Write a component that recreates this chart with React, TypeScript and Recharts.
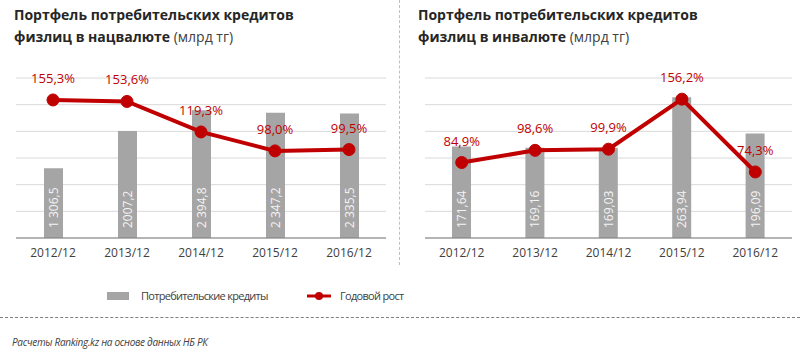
import React from 'react';
import { ComposedChart, Bar, Line, XAxis, YAxis, CartesianGrid, LabelList } from 'recharts';

// ---------------------------------------------------------------------------
// Data
// ---------------------------------------------------------------------------

const categories = ['2012/12', '2013/12', '2014/12', '2015/12', '2016/12'];

// Portfolio in national currency, bln tenge
const localLoans = [1306.5, 2007.2, 2394.8, 2347.2, 2335.5];
const localLoanLabels = ['1 306,5', '2007,2', '2 394,8', '2 347,2', '2 335,5'];
const localGrowth = [155.3, 153.6, 119.3, 98.0, 99.5];

// Portfolio in foreign currency, bln tenge
const fxLoans = [171.64, 169.16, 169.03, 263.94, 196.09];
const fxLoanLabels = ['171,64', '169,16', '169,03', '263,94', '196,09'];
const fxGrowth = [84.9, 98.6, 99.9, 156.2, 74.3];

const localTicks = [0, 500, 1000, 1500, 2000, 2500, 3000];
const fxTicks = [0, 50, 100, 150, 200, 250, 300];
const growthDomain = [0, 180];

// ---------------------------------------------------------------------------
// Styles
// ---------------------------------------------------------------------------

const FONT = "'Open Sans', 'Noto Sans', sans-serif";
const RED = '#c00000';
const BAR = '#a5a5a5';
const GRID = '#d9d9d9';
const TEXT = '#404040';

const buildRows = (loans: number[], labels: string[], growth: number[]) =>
  categories.map((c, i) => ({ cat: c, loans: loans[i], label: labels[i], growth: growth[i] }));

const BarValueLabel = (props: any) => {
  const { x, y, width, height, value } = props;
  const cx = x + width / 2;
  const by = y + height - 10;
  return (
    <text
      x={cx}
      y={by}
      transform={`rotate(-90, ${cx}, ${by})`}
      textAnchor="start"
      dominantBaseline="central"
      fill="#f4f4f4"
      fontSize={12}
      fontFamily={FONT}
    >
      {value}
    </text>
  );
};

const GrowthLabel = (props: any) => {
  const { x, y, value } = props;
  return (
    <text
      x={x}
      y={y - 22}
      textAnchor="middle"
      dominantBaseline="central"
      fill={RED}
      fontSize={13}
      fontFamily={FONT}
    >
      {`${Number(value).toFixed(1).replace('.', ',')}%`}
    </text>
  );
};

interface PanelProps {
  left: number;
  rows: ReturnType<typeof buildRows>;
  barTicks: number[];
  margin: { top: number; right: number; bottom: number; left: number };
  title: string;
  subtitle: string;
}

const Panel = ({ left, rows, barTicks, margin, title, subtitle }: PanelProps) => (
  <div style={{ position: 'absolute', left, top: 0, width: 400, height: 270 }}>
    <div
      style={{
        position: 'absolute',
        left: left === 0 ? 14 : 18,
        top: 4,
        fontFamily: FONT,
        fontSize: 14,
        lineHeight: '22px',
        fontWeight: 700,
        color: '#262626',
        whiteSpace: 'nowrap',
      }}
    >
      <div>{title}</div>
      <div>
        {subtitle} <span style={{ fontWeight: 400, color: TEXT }}>(млрд тг)</span>
      </div>
    </div>
    <ComposedChart width={400} height={270} data={rows} margin={margin}>
      <CartesianGrid yAxisId="bars" vertical={false} stroke={GRID} strokeWidth={1} />
      <XAxis
        dataKey="cat"
        height={32}
        interval={0}
        tickLine={false}
        tickMargin={4}
        axisLine={{ stroke: '#7f7f7f', strokeWidth: 1 }}
        tick={{ fontSize: 12, fill: TEXT, fontFamily: FONT }}
      />
      <YAxis yAxisId="bars" hide domain={[barTicks[0], barTicks[barTicks.length - 1]]} ticks={barTicks} />
      <YAxis yAxisId="growth" hide domain={growthDomain} />
      <Bar yAxisId="bars" dataKey="loans" fill={BAR} barSize={19} isAnimationActive={false}>
        <LabelList dataKey="label" content={BarValueLabel} />
      </Bar>
      <Line
        yAxisId="growth"
        dataKey="growth"
        stroke={RED}
        strokeWidth={4}
        dot={{ r: 6, fill: RED, stroke: RED, strokeWidth: 1 }}
        activeDot={false}
        isAnimationActive={false}
      >
        <LabelList dataKey="growth" content={GrowthLabel} />
      </Line>
    </ComposedChart>
  </div>
);

const legendText: React.CSSProperties = {
  position: 'absolute',
  top: 287,
  fontFamily: FONT,
  fontSize: 11,
  letterSpacing: -0.7,
  lineHeight: '18px',
  color: TEXT,
  whiteSpace: 'nowrap',
};

export default function App() {
  return (
    <div
      style={{
        position: 'absolute',
        left: 0,
        top: 0,
        width: 800,
        height: 359,
        background: '#fff',
        overflow: 'hidden',
      }}
    >
      <Panel
        left={0}
        rows={buildRows(localLoans, localLoanLabels, localGrowth)}
        barTicks={localTicks}
        margin={{ top: 78, right: 14, bottom: 0, left: 16 }}
        title="Портфель потребительских кредитов"
        subtitle="физлиц в нацвалюте"
      />
      <Panel
        left={400}
        rows={buildRows(fxLoans, fxLoanLabels, fxGrowth)}
        barTicks={fxTicks}
        margin={{ top: 78, right: 8, bottom: 0, left: 25 }}
        title="Портфель потребительских кредитов"
        subtitle="физлиц в инвалюте"
      />

      {/* vertical separator between the two panels */}
      <div
        style={{
          position: 'absolute',
          left: 399,
          top: 0,
          height: 265,
          borderLeft: '1px dashed #bfbfbf',
        }}
      />

      {/* legend */}
      <div style={{ position: 'absolute', left: 107, top: 292, width: 22, height: 8, background: BAR }} />
      <div style={{ ...legendText, left: 141 }}>Потребительские кредиты</div>
      <svg style={{ position: 'absolute', left: 305, top: 290 }} width={28} height={12}>
        <line x1={2} y1={6} x2={26} y2={6} stroke={RED} strokeWidth={3} />
        <circle cx={14} cy={6} r={4} fill={RED} />
      </svg>
      <div style={{ ...legendText, left: 340 }}>Годовой рост</div>

      {/* footer */}
      <div
        style={{
          position: 'absolute',
          left: 0,
          top: 317,
          width: 800,
          borderTop: '1px dashed #7f7f7f',
        }}
      />
      <div
        style={{
          position: 'absolute',
          left: 12,
          top: 334,
          fontFamily: FONT,
          fontSize: 10,
          fontStyle: 'italic',
          letterSpacing: -0.3,
          lineHeight: '16px',
          color: TEXT,
          whiteSpace: 'nowrap',
        }}
      >
        Расчеты Ranking.kz на основе данных НБ РК
      </div>
    </div>
  );
}
